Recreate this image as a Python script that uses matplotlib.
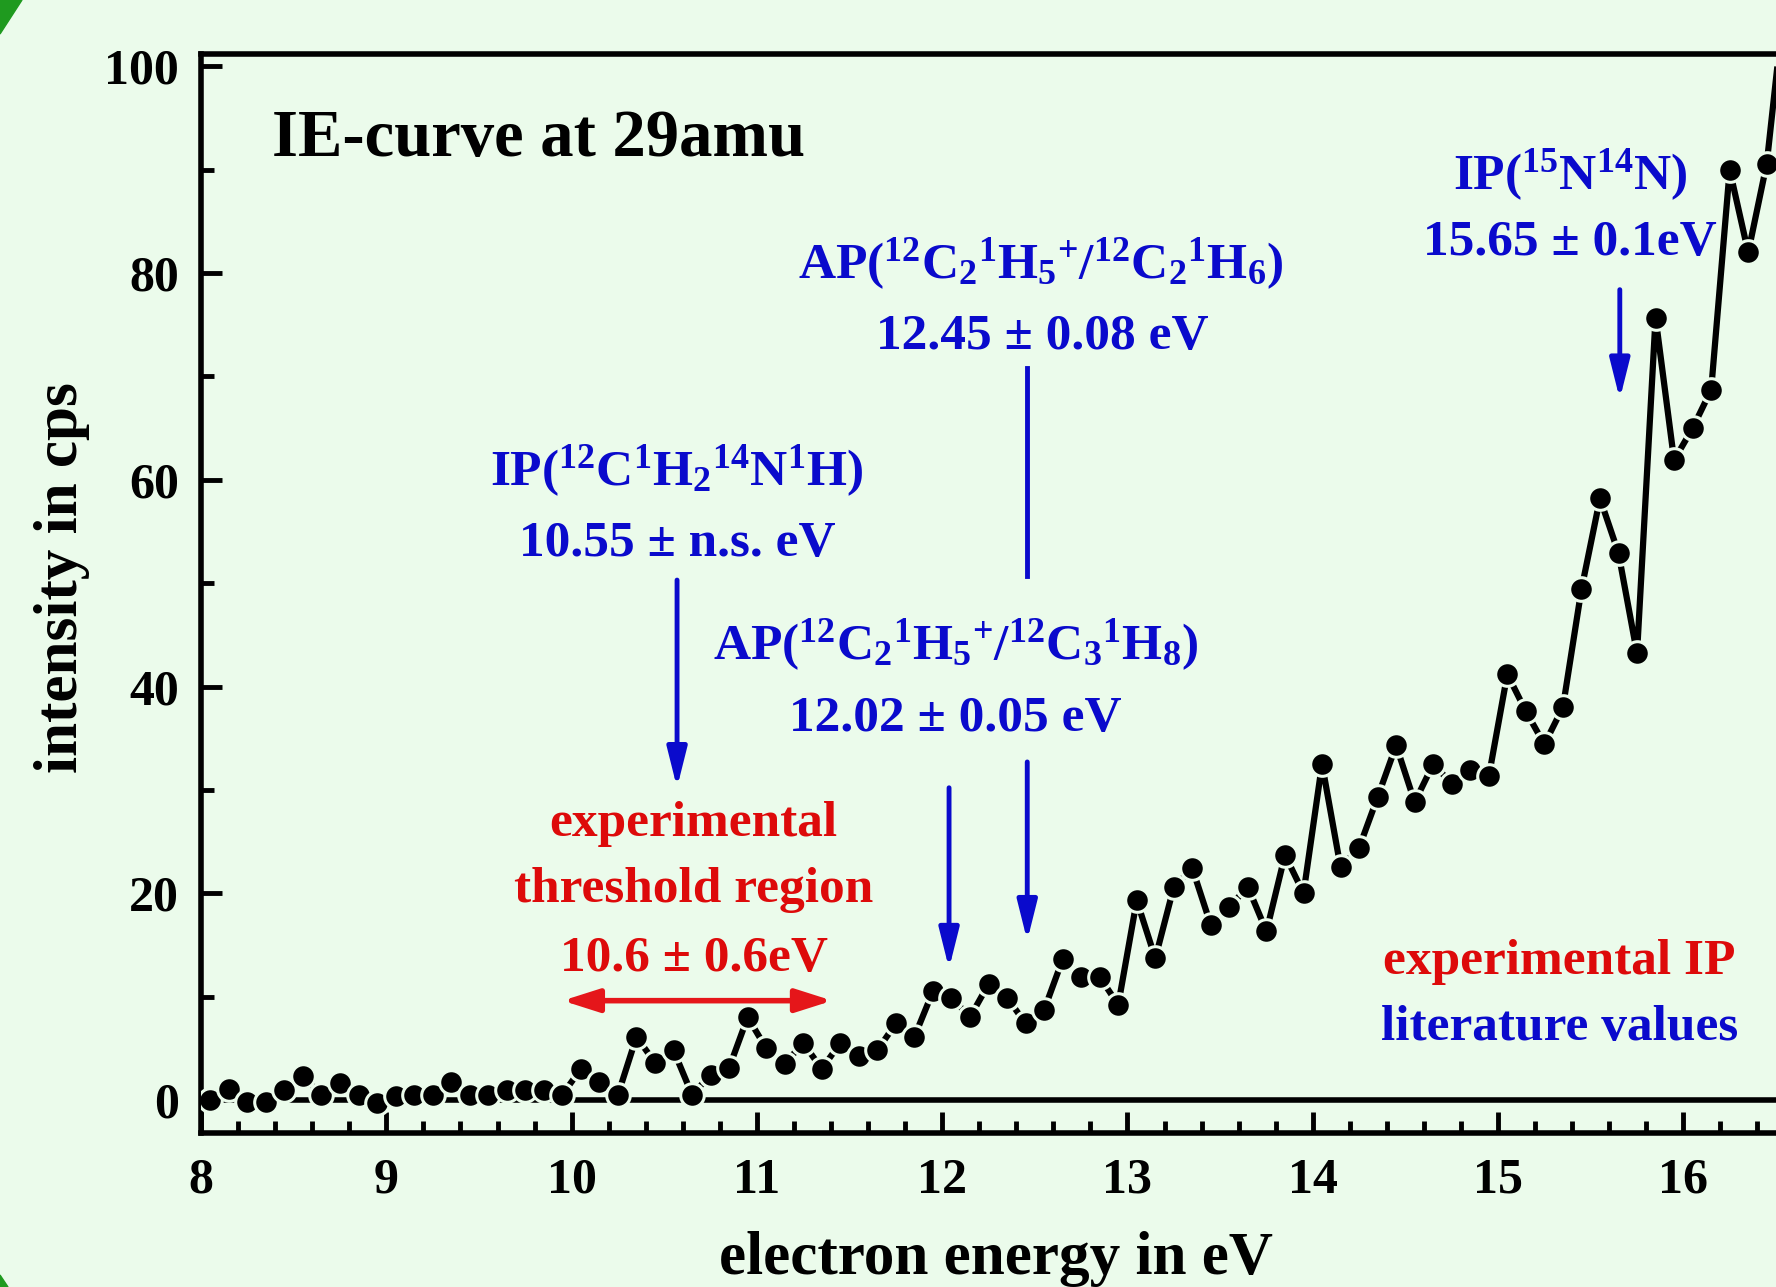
import numpy as np
import matplotlib
matplotlib.use('Agg')
import matplotlib.pyplot as plt
from matplotlib.patches import Polygon
from matplotlib.ticker import MultipleLocator

# IE-curve at 29 amu
energy = [8.05, 8.15, 8.25, 8.35, 8.45, 8.55, 8.65, 8.75, 8.85, 8.95,
          9.05, 9.15, 9.25, 9.35, 9.45, 9.55, 9.65, 9.75, 9.85, 9.95,
          10.05, 10.15, 10.25, 10.35, 10.45, 10.55, 10.65, 10.75, 10.85, 10.95,
          11.05, 11.15, 11.25, 11.35, 11.45, 11.55, 11.65, 11.75, 11.85, 11.95,
          12.05, 12.15, 12.25, 12.35, 12.45, 12.55, 12.65, 12.75, 12.85, 12.95,
          13.05, 13.15, 13.25, 13.35, 13.45, 13.55, 13.65, 13.75, 13.85, 13.95,
          14.05, 14.15, 14.25, 14.35, 14.45, 14.55, 14.65, 14.75, 14.85, 14.95,
          15.05, 15.15, 15.25, 15.35, 15.45, 15.55, 15.65, 15.75, 15.85, 15.95,
          16.05, 16.15, 16.25, 16.35, 16.45, 16.55]
counts = [0.0, 1.1, -0.2, -0.2, 1.0, 2.3, 0.5, 1.6, 0.5, -0.3,
          0.4, 0.5, 0.5, 1.7, 0.5, 0.5, 1.0, 1.0, 1.0, 0.5,
          3.0, 1.7, 0.5, 6.1, 3.6, 4.8, 0.5, 2.4, 3.1, 8.0,
          5.0, 3.5, 5.5, 3.0, 5.5, 4.2, 4.8, 7.4, 6.1, 10.5,
          9.9, 8.0, 11.2, 9.9, 7.4, 8.7, 13.6, 11.9, 11.9, 9.2,
          19.3, 13.7, 20.6, 22.4, 16.9, 18.7, 20.6, 16.3, 23.7, 20.0,
          32.5, 22.5, 24.4, 29.3, 34.3, 28.8, 32.5, 30.6, 31.9, 31.3,
          41.2, 37.6, 34.4, 38.0, 49.4, 58.2, 52.9, 43.2, 75.7, 61.9,
          65.0, 68.7, 90.0, 82.0, 90.6, 107.0]

xticks = [8, 9, 10, 11, 12, 13, 14, 15, 16]
yticks = [0, 20, 40, 60, 80, 100]

bg = '#ebfbeb'
blue = '#0a0acc'
red = '#dd0a0a'

plt.rcParams['font.family'] = ['Liberation Serif', 'DejaVu Serif']
plt.rcParams['font.weight'] = 'bold'
plt.rcParams['mathtext.fontset'] = 'custom'
plt.rcParams['mathtext.rm'] = 'Liberation Serif:bold'
plt.rcParams['mathtext.it'] = 'Liberation Serif:bold'
plt.rcParams['mathtext.bf'] = 'Liberation Serif:bold'
plt.rcParams['mathtext.default'] = 'rm'

fig = plt.figure(figsize=(17.76, 12.87), dpi=100, facecolor=bg)
ax = fig.add_axes([0.1132, 0.1197, 0.8868, 0.8383])
ax.set_facecolor(bg)

# green frame corners
green = '#1f9a1f'
fig.patches.append(Polygon([[0, 1], [22 / 1776, 1], [0, 1 - 34 / 1287]],
                           transform=fig.transFigure, color=green))
fig.patches.append(Polygon([[0, 0], [8 / 1776, 0], [0, 12 / 1287]],
                           transform=fig.transFigure, color=green))

ax.axhline(0, color='k', lw=4, zorder=2)
ax.plot(energy, counts, color='k', lw=4.5, marker='o', markersize=17,
        markerfacecolor='k', markeredgecolor=bg, markeredgewidth=2.2, zorder=3)

ax.set_xlim(8, 16.5)
ax.set_ylim(-3.2, 101.2)
ax.set_xticks(xticks)
ax.set_yticks(yticks)
ax.xaxis.set_minor_locator(MultipleLocator(0.2))
ax.yaxis.set_minor_locator(MultipleLocator(10))
ax.tick_params(axis='both', which='both', direction='in', top=False, right=False,
               width=3.5, labelsize=36)
ax.tick_params(which='major', length=15)
ax.tick_params(which='minor', length=9)
ax.tick_params(axis='y', pad=16)
ax.tick_params(axis='x', pad=18)
for s in ['left', 'bottom', 'top']:
    ax.spines[s].set_linewidth(4)
ax.spines['right'].set_visible(False)

fig.text(0.561, 0.0101, 'electron energy in eV', fontsize=44, ha='center', va='baseline')
fig.text(0.0434, 0.551, 'intensity in cps', fontsize=44, rotation=90,
         rotation_mode='anchor', ha='center', va='baseline')

ax.text(8.385, 91.3, 'IE-curve at 29amu', fontsize=48, ha='left', va='baseline')

fs = 37
ax.text(10.569, 59.5, r'IP($^{12}$C$^{1}$H$_{2}$$^{14}$N$^{1}$H)', color=blue,
        fontsize=fs, ha='center', va='baseline')
ax.text(10.569, 52.6, '10.55 ± n.s. eV', color=blue, fontsize=fs, ha='center', va='baseline')
ax.text(12.53, 79.5, r'AP($^{12}$C$_{2}$$^{1}$H$_{5}$$^{+}$/$^{12}$C$_{2}$$^{1}$H$_{6}$)',
        color=blue, fontsize=fs, ha='center', va='baseline')
ax.text(12.538, 72.7, '12.45 ± 0.08 eV', color=blue, fontsize=fs, ha='center', va='baseline')
ax.text(12.073, 42.6, r'AP($^{12}$C$_{2}$$^{1}$H$_{5}$$^{+}$/$^{12}$C$_{3}$$^{1}$H$_{8}$)',
        color=blue, fontsize=fs, ha='center', va='baseline')
ax.text(12.07, 35.7, '12.02 ± 0.05 eV', color=blue, fontsize=fs, ha='center', va='baseline')
ax.text(15.389, 88.1, r'IP($^{15}$N$^{14}$N)', color=blue, fontsize=fs,
        ha='center', va='baseline')
ax.text(15.389, 81.8, '15.65 ± 0.1eV', color=blue, fontsize=fs, ha='center', va='baseline')

ax.text(10.657, 25.5, 'experimental', color=red, fontsize=fs, ha='center', va='baseline')
ax.text(10.657, 19.1, 'threshold region', color=red, fontsize=fs, ha='center', va='baseline')
ax.text(10.66, 12.5, '10.6 ± 0.6eV', color=red, fontsize=fs, ha='center', va='baseline')
ax.text(15.33, 12.2, 'experimental IP', color=red, fontsize=fs, ha='center', va='baseline')
ax.text(15.33, 5.8, 'literature values', color=blue, fontsize=fs, ha='center', va='baseline')

# arrows
head = dict(arrowstyle='-|>,head_width=0.3,head_length=1.2', color=blue, lw=3.5,
            mutation_scale=20, shrinkA=0, shrinkB=0)
ax.annotate('', xy=(10.569, 30.2), xytext=(10.569, 50.3), arrowprops=head)
ax.plot([12.459, 12.459], [50.7, 70.8], color=blue, lw=3.5)
ax.annotate('', xy=(12.459, 15.4), xytext=(12.459, 32.7), arrowprops=head)
ax.annotate('', xy=(12.037, 12.7), xytext=(12.037, 30.2), arrowprops=head)
ax.annotate('', xy=(15.657, 67.8), xytext=(15.657, 78.4), arrowprops=head)
ax.annotate('', xy=(9.951, 9.6), xytext=(11.407, 9.6),
            arrowprops=dict(arrowstyle='<|-|>,head_width=0.35,head_length=1.1', color='#e5161a',
                            lw=4, mutation_scale=20, shrinkA=0, shrinkB=0))

fig.savefig('out.png', dpi=100, facecolor=bg)
